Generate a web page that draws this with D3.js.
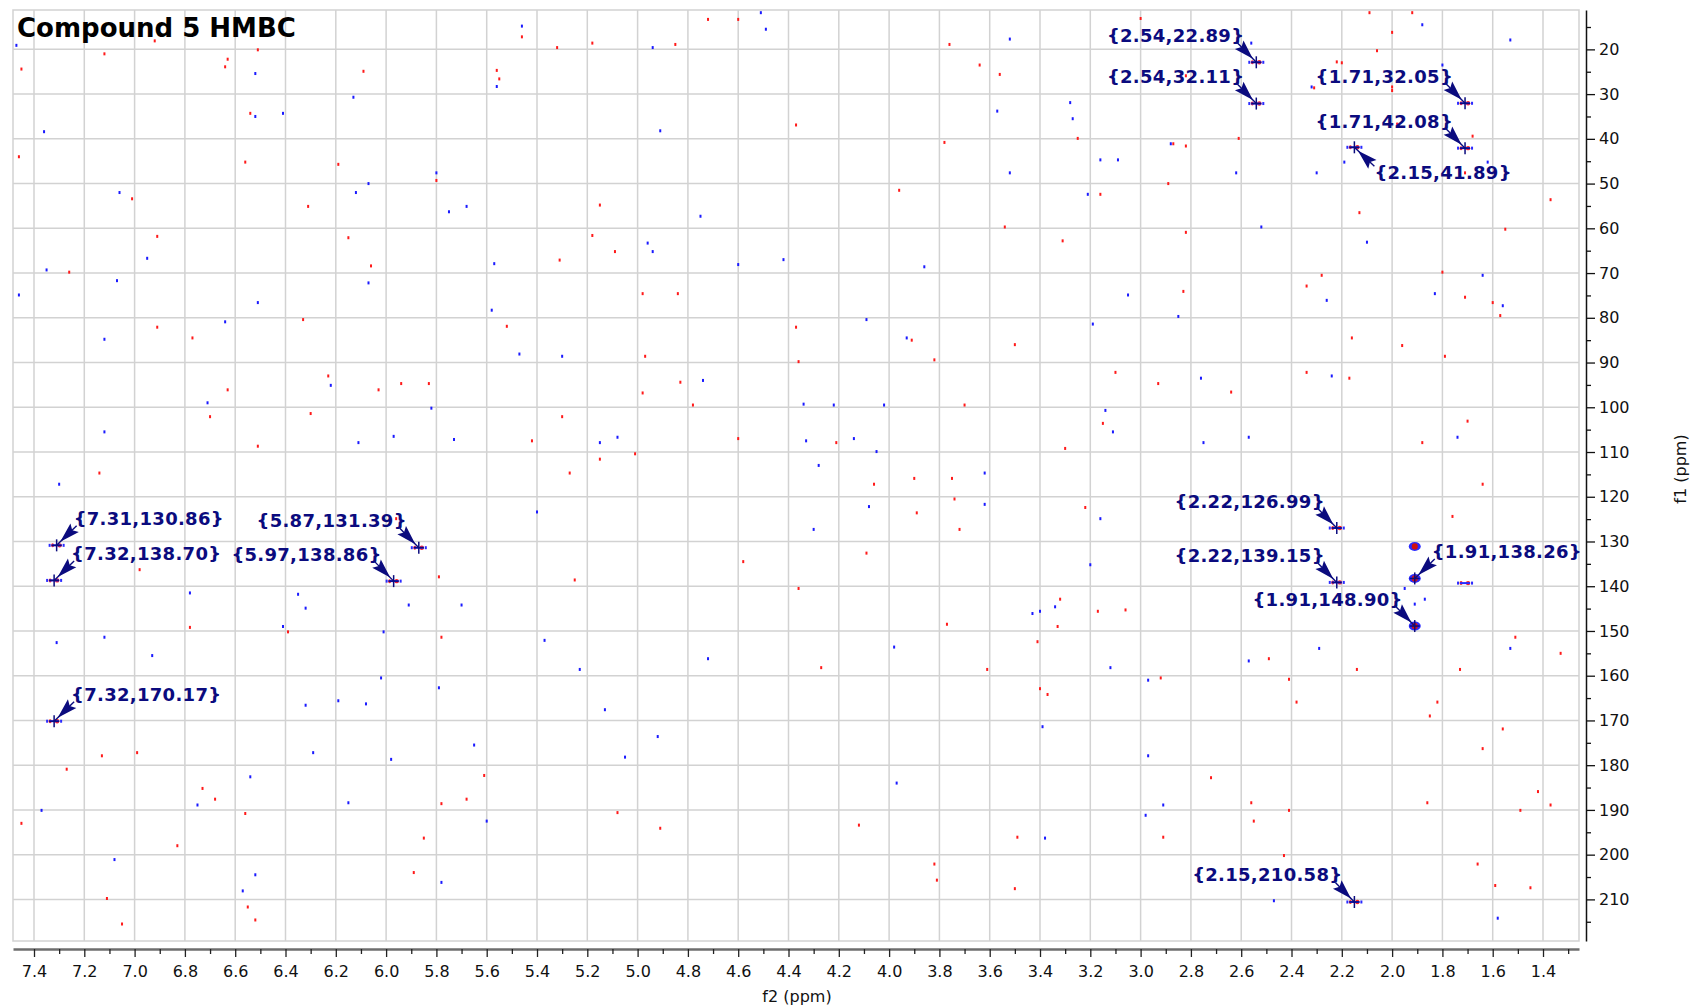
<!DOCTYPE html>
<html><head><meta charset="utf-8">
<script src="https://cdn.jsdelivr.net/npm/d3@7"></script>
<style>body{margin:0;background:#fff}svg{display:block}</style>
</head><body>
<svg id="c" width="1692" height="1008"></svg>
<script>
// ---------------- data ----------------
const title = "Compound 5 HMBC";
const xLabel = "f2 (ppm)";
const yLabel = "f1 (ppm)";
const xTickLabels = ["7.4","7.2","7.0","6.8","6.6","6.4","6.2","6.0","5.8","5.6","5.4","5.2","5.0","4.8","4.6","4.4","4.2","4.0","3.8","3.6","3.4","3.2","3.0","2.8","2.6","2.4","2.2","2.0","1.8","1.6","1.4"];
const yTickLabels = ["20","30","40","50","60","70","80","90","100","110","120","130","140","150","160","170","180","190","200","210"];

// labelled cross peaks (f2, f1)
const peakF2 = [2.54, 2.54, 1.71, 1.71, 2.15, 7.31, 7.32, 5.87, 5.97, 7.32, 2.22, 2.22, 1.91, 1.91, 2.15];
const peakF1 = [22.89, 32.11, 32.05, 42.08, 41.89, 130.86, 138.70, 131.39, 138.86, 170.17, 126.99, 139.15, 138.26, 148.90, 210.58];
// unlabelled signals
const extraF2 = [1.91, 1.71];
const extraF1 = [131.1, 139.3];

// noise specks [f2, f1]
const noiseRed = [[7.45,24.4],[7.12,21.0],[6.92,18.1],[7.46,44.0],[7.01,53.4],[6.91,61.8],[6.91,82.1],[6.77,84.5],[6.70,102.1],[6.63,96.1],[7.26,69.8],[7.14,114.7],[6.78,149.2],[6.98,136.3],[7.45,193.0],[7.13,177.9],[6.99,177.2],[6.83,198.0],[6.73,185.2],[6.68,187.6],[7.11,209.8],[7.05,215.5],[6.55,211.7],[6.52,214.6],[6.56,190.8],[7.27,180.9],[6.63,22.2],[6.64,23.9],[6.51,20.1],[6.54,34.3],[6.56,45.2],[6.51,108.7],[6.33,80.4],[6.31,55.1],[6.30,101.4],[6.39,150.2],[6.23,93.0],[6.19,45.7],[6.15,62.1],[6.09,24.9],[6.06,68.4],[6.03,96.1],[5.96,124.9],[5.94,94.7],[5.89,204.0],[5.85,196.3],[5.83,94.7],[5.80,49.3],[5.79,137.9],[5.78,188.6],[5.78,151.4],[5.68,187.6],[5.61,182.3],[5.56,24.7],[5.55,26.6],[5.52,81.9],[5.46,17.2],[5.42,107.5],[5.32,19.6],[5.31,67.1],[5.30,102.1],[5.27,114.7],[5.25,138.6],[5.18,18.6],[5.18,61.6],[5.15,54.8],[5.15,111.6],[5.09,65.2],[5.08,190.6],[5.01,110.4],[4.98,96.8],[4.98,74.6],[4.97,88.6],[4.91,194.1],[4.85,18.9],[4.84,74.6],[4.83,94.4],[4.78,99.5],[4.72,13.3],[4.60,13.3],[4.60,107.0],[4.58,134.5],
[4.37,82.1],[4.37,36.9],[4.36,89.8],[4.36,140.5],[4.27,158.2],[4.21,107.9],[4.12,193.4],[4.09,132.6],[4.06,117.2],[3.96,51.5],[3.91,85.0],[3.90,115.9],[3.89,123.6],[3.82,89.4],[3.82,202.1],[3.81,205.7],[3.78,40.8],[3.76,18.9],[3.77,148.5],[3.75,115.9],[3.74,120.5],[3.72,127.3],[3.70,99.5],[3.64,23.5],[3.61,158.6],[3.56,25.6],[3.54,59.7],[3.50,86.0],[3.50,207.6],[3.49,196.1],[3.41,152.4],[3.40,162.9],[3.37,164.2],[3.33,149.0],[3.32,142.9],[3.31,62.8],[3.30,109.2],[3.25,39.9],[3.22,122.4],[3.17,145.6],[3.16,52.4],[3.15,103.6],[3.10,92.2],[3.06,145.3],[3.00,13.1],[2.93,94.7],[2.92,160.5],[2.91,196.1],[2.89,50.0],[2.87,41.1],[2.83,74.1],[2.82,41.6],[2.82,25.9],[2.82,60.9],[2.72,182.8],[2.64,96.6],[2.61,39.9],[2.56,188.4],[2.55,192.5],[2.49,156.2],[2.43,200.2],[2.41,190.1],[2.41,160.8],[2.38,165.9],[2.34,92.2],[2.34,72.9],[2.28,70.5],[2.20,23.0],[2.22,22.8],[2.31,28.6],[2.00,28.4],[2.00,29.2],[2.17,93.5],[2.16,84.5],[2.14,158.6],[2.13,56.5],[2.06,20.3],[2.09,11.8],[2.00,16.2],[1.98,36.7],[1.96,86.2],[1.92,11.8],[1.88,107.9],[1.86,188.4],[1.85,169.0],[1.82,165.9],[1.80,69.8],[1.79,88.6],[1.76,124.4],[1.73,158.6],[1.71,75.4],[1.71,47.6],[1.70,103.1],[1.68,39.4],[1.66,202.1],[1.64,117.2],[1.64,176.3],[1.60,76.6],[1.59,206.9],[1.57,79.5],[1.56,171.9],[1.55,60.2],[1.51,151.4],[1.49,190.1],[1.45,207.4],[1.42,185.9],[1.37,53.6],[1.37,188.9],[1.33,155.0]];
const noiseBlue = [[7.47,19.1],[7.36,38.4],[7.06,52.0],[6.95,66.7],[7.07,71.7],[7.12,84.8],[6.71,99.0],[6.64,80.9],[7.46,74.9],[7.35,69.3],[7.12,105.5],[7.30,117.2],[7.12,151.4],[6.93,155.5],[6.78,141.5],[7.37,190.1],[7.08,201.1],[6.75,188.9],[6.57,208.1],[6.52,204.5],[6.54,182.6],[7.31,152.6],[6.52,25.4],[6.52,35.0],[6.51,76.6],[6.41,34.3],[6.35,141.8],[6.32,144.9],[6.41,149.0],[6.32,166.6],[6.29,177.2],[6.22,95.1],[6.19,165.6],[6.15,188.4],[6.12,52.0],[6.11,107.9],[6.13,30.7],[6.07,50.0],[6.07,72.2],[6.08,166.3],[6.02,160.5],[6.01,150.2],[5.98,178.7],[5.97,106.5],[5.91,144.2],[5.82,100.2],[5.80,47.6],[5.79,162.7],[5.78,206.2],[5.75,56.3],[5.73,107.2],[5.70,144.2],[5.68,55.1],[5.65,175.5],[5.60,192.5],[5.58,78.3],[5.57,67.9],[5.56,28.3],[5.47,88.1],[5.46,14.8],[5.40,123.4],[5.37,152.1],[5.30,88.6],[5.23,158.6],[5.15,107.9],[5.13,167.6],[5.08,106.7],[5.05,178.2],[4.96,63.3],[4.94,19.6],[4.94,65.2],[4.92,173.6],[4.91,38.2],[4.75,57.3],[4.74,94.0],[4.72,156.2],[4.60,68.1],
[4.51,11.8],[4.49,15.5],[4.42,67.0],[4.34,99.3],[4.33,107.5],[4.30,127.3],[4.28,113.0],[4.22,99.5],[4.14,107.0],[4.09,80.4],[4.08,122.2],[4.05,109.9],[4.02,99.5],[3.98,153.6],[3.97,184.0],[3.93,84.5],[3.86,68.6],[3.62,114.7],[3.62,121.7],[3.57,33.8],[3.52,17.7],[3.52,47.6],[3.43,146.1],[3.40,145.6],[3.39,171.4],[3.38,196.3],[3.34,144.6],[3.28,31.9],[3.27,35.5],[3.21,52.4],[3.20,135.2],[3.19,81.4],[3.16,124.9],[3.16,44.7],[3.14,100.7],[3.12,158.2],[3.11,105.5],[3.09,44.7],[3.05,74.9],[2.98,191.2],[2.97,161.0],[2.97,177.9],[2.91,188.9],[2.88,41.1],[2.85,79.7],[2.76,93.5],[2.75,107.9],[2.62,47.6],[2.57,106.7],[2.57,156.7],[2.56,18.6],[2.52,59.7],[2.47,210.3],[2.32,28.4],[2.30,47.6],[2.29,153.9],[2.26,76.1],[2.24,93.0],[2.19,45.2],[2.10,63.1],[1.95,140.5],[1.88,14.5],[1.87,142.9],[1.91,144.0],[1.83,74.6],[1.80,23.5],[1.74,106.7],[1.64,70.5],[1.62,45.2],[1.58,214.2],[1.56,77.3],[1.53,153.9],[1.53,17.9]];

// ---------------- layout (not data) ----------------
const labelSide = ["ul","ul","ul","ul","lr","ur","ur","ul","ul","ur","ul","ul","ur","ul","ul"];
const plot = {l: 13, r: 1579, t: 10, b: 941};
const navy = "#0b0b7e";
const axisFont = "'DejaVu Sans', Verdana, sans-serif";

const svg = d3.select("#c");
const x = d3.scaleLinear().domain([7.4835, 1.2569]).range([plot.l, plot.r]);
const y = d3.scaleLinear().domain([11.2, 219.3]).range([plot.t, plot.b]);

const xMajor = xTickLabels.map(Number);
const yMajor = yTickLabels.map(Number);
const xMinor = d3.range(13, 75, 2).map(v => v / 10).filter(v => v >= 1.2569 && v <= 7.4835);
const yMinor = d3.range(15, 220, 10);

// grid
const grid = svg.append("g").attr("stroke", "#d2d2d2").attr("stroke-width", 1.5);
grid.selectAll("line.v").data(xMajor).join("line")
  .attr("x1", d => x(d)).attr("x2", d => x(d)).attr("y1", plot.t).attr("y2", plot.b);
grid.selectAll("line.h").data(yMajor).join("line")
  .attr("y1", d => y(d)).attr("y2", d => y(d)).attr("x1", plot.l).attr("x2", plot.r);
svg.append("rect").attr("x", plot.l).attr("y", plot.t).attr("width", plot.r - plot.l).attr("height", plot.b - plot.t)
  .attr("fill", "none").attr("stroke", "#d2d2d2").attr("stroke-width", 1.5);

// noise
const noiseG = svg.append("g");
noiseG.selectAll("rect.r").data(noiseRed).join("rect")
  .attr("x", d => x(d[0]) - 1).attr("y", d => y(d[1]) - 1.5).attr("width", 2).attr("height", 3).attr("fill", "#ff1a1a");
noiseG.selectAll("rect.b").data(noiseBlue).join("rect")
  .attr("x", d => x(d[0]) - 1).attr("y", d => y(d[1]) - 1.5).attr("width", 2).attr("height", 3).attr("fill", "#1a1aff");

// signals (contour blobs)
const sigF2 = peakF2.concat(extraF2), sigF1 = peakF1.concat(extraF1);
const sigG = svg.append("g");
sigF2.forEach((f2, i) => {
  const cx = x(f2), cy = y(sigF1[i]);
  if (f2 === 1.91) {
    sigG.append("ellipse").attr("cx", cx).attr("cy", cy).attr("rx", 6).attr("ry", 4.5).attr("fill", "#2a2aff");
    sigG.append("ellipse").attr("cx", cx).attr("cy", cy).attr("rx", 3).attr("ry", 3.2).attr("fill", "#d01010");
  } else {
    sigG.append("rect").attr("x", cx - 8).attr("y", cy - 1.5).attr("width", 2).attr("height", 3).attr("fill", "#2a2aff");
    sigG.append("rect").attr("x", cx + 6).attr("y", cy - 1.5).attr("width", 2).attr("height", 3).attr("fill", "#2a2aff");
    sigG.append("ellipse").attr("cx", cx - 4).attr("cy", cy).attr("rx", 1.5).attr("ry", 2).attr("fill", "#ff2020");
    sigG.append("ellipse").attr("cx", cx + 3).attr("cy", cy).attr("rx", 2.2).attr("ry", 2.2).attr("fill", "#ff2020");
    sigG.append("line").attr("x1", cx - 5).attr("x2", cx + 5).attr("y1", cy).attr("y2", cy).attr("stroke", "#2a2aff").attr("stroke-width", 2);
  }
});

// annotations
const annG = svg.append("g");
peakF2.forEach((f2, i) => {
  const f1 = peakF1[i];
  const px = x(f2), py = y(f1);
  const side = labelSide[i];
  let tx, ty, anchor, sx, sy;
  if (side === "ul") { tx = px - 12; ty = py - 27; anchor = "end"; sx = px - 19; sy = py - 19.5; }
  else if (side === "ur") { tx = px + 17; ty = py - 27; anchor = "start"; sx = px + 20; sy = py - 19.5; }
  else { tx = px + 20; ty = py + 25.5; anchor = "start"; sx = px + 20; sy = py + 19; }
  annG.append("line").attr("x1", sx).attr("y1", sy).attr("x2", px).attr("y2", py)
    .attr("stroke", navy).attr("stroke-width", 1.4);
  // barbed arrowhead
  const dx = px - sx, dy = py - sy, len = Math.hypot(dx, dy);
  const ux = dx / len, uy = dy / len, nx = -uy, ny = ux;
  const at = t => [sx + dx * t, sy + dy * t];
  const tip = at(0.82), back = at(0.1), notch = at(0.22);
  annG.append("path").attr("d", d3.line()([
      tip,
      [back[0] + nx * 6, back[1] + ny * 6],
      notch,
      [back[0] - nx * 6, back[1] - ny * 6]
    ]) + "Z").attr("fill", navy);
  annG.append("line").attr("x1", px - 5).attr("x2", px + 5).attr("y1", py).attr("y2", py).attr("stroke", navy).attr("stroke-width", 1.5);
  annG.append("line").attr("x1", px).attr("x2", px).attr("y1", py - 6).attr("y2", py + 6).attr("stroke", navy).attr("stroke-width", 1.5);
  annG.append("text").attr("x", tx).attr("y", ty).attr("dy", "0.36em")
    .attr("text-anchor", anchor)
    .attr("font-family", axisFont).attr("font-weight", "bold").attr("font-size", 18)
    .attr("letter-spacing", 0.3)
    .attr("fill", navy)
    .text(`{${f2.toFixed(2)},${f1.toFixed(2)}}`);
});

// x axis
const xAxisY = 949;
const gx = svg.append("g").attr("transform", `translate(0,${xAxisY})`)
  .call(d3.axisBottom(x).tickValues(xMajor).tickSize(8).tickSizeOuter(0).tickFormat((d, i) => xTickLabels[i]));
gx.select(".domain").attr("stroke", "#6e6e6e").attr("stroke-width", 2.5);
gx.selectAll(".tick line").attr("stroke", "#222").attr("stroke-width", 1.3);
gx.selectAll(".tick text").attr("font-family", axisFont).attr("font-size", 16).attr("fill", "#111").attr("dy", "1.05em");
const gxm = svg.append("g").attr("transform", `translate(0,${xAxisY})`)
  .call(d3.axisBottom(x).tickValues(xMinor).tickSize(5).tickSizeOuter(0).tickFormat(""));
gxm.select(".domain").remove();
gxm.selectAll(".tick line").attr("stroke", "#222").attr("stroke-width", 1.3);
svg.append("text").attr("x", 797).attr("y", 1002).attr("text-anchor", "middle")
  .attr("font-family", axisFont).attr("font-size", 16).attr("fill", "#111").text(xLabel);

// y axis (right)
const yAxisX = 1586;
const gy = svg.append("g").attr("transform", `translate(${yAxisX},0)`)
  .call(d3.axisRight(y).tickValues(yMajor).tickSize(9).tickSizeOuter(0).tickPadding(4).tickFormat((d, i) => yTickLabels[i]));
gy.select(".domain").attr("stroke", "#111").attr("stroke-width", 1.5);
gy.selectAll(".tick line").attr("stroke", "#111").attr("stroke-width", 1.3);
gy.selectAll(".tick text").attr("font-family", axisFont).attr("font-size", 16).attr("fill", "#111");
const gym = svg.append("g").attr("transform", `translate(${yAxisX},0)`)
  .call(d3.axisRight(y).tickValues(yMinor).tickSize(5).tickSizeOuter(0).tickFormat(""));
gym.select(".domain").remove();
gym.selectAll(".tick line").attr("stroke", "#111").attr("stroke-width", 1.3);
svg.append("text").attr("transform", "translate(1680,469) rotate(-90)").attr("text-anchor", "middle")
  .attr("dy", "0.35em").attr("font-family", axisFont).attr("font-size", 16).attr("fill", "#111").text(yLabel);

// title
svg.append("text").attr("x", 17).attr("y", 37).attr("font-family", axisFont).attr("font-weight", "bold")
  .attr("font-size", 26).attr("fill", "#000").text(title);
</script>
</body></html>
